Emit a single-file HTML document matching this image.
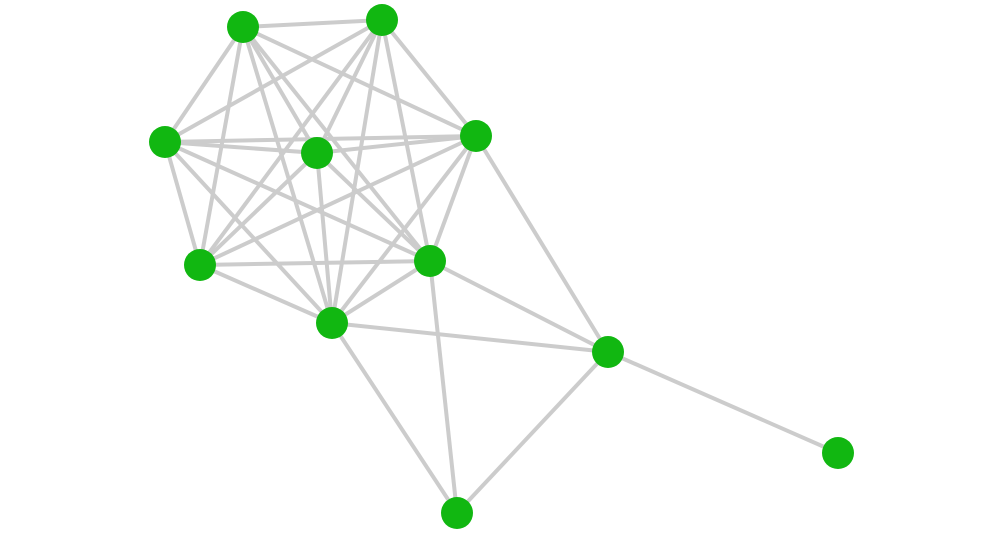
<!DOCTYPE html>
<html><head><meta charset="utf-8"><style>html,body{margin:0;padding:0;background:#fff}</style></head>
<body>
<svg width="1000" height="535" xmlns="http://www.w3.org/2000/svg">
<g stroke="#cccccc" stroke-width="4" fill="none">
<line x1="243" y1="27" x2="382" y2="20"/>
<line x1="243" y1="27" x2="165" y2="142"/>
<line x1="243" y1="27" x2="200" y2="265"/>
<line x1="243" y1="27" x2="332" y2="323"/>
<line x1="243" y1="27" x2="317" y2="153"/>
<line x1="243" y1="27" x2="430" y2="261"/>
<line x1="243" y1="27" x2="476" y2="136"/>
<line x1="382" y1="20" x2="165" y2="142"/>
<line x1="382" y1="20" x2="317" y2="153"/>
<line x1="382" y1="20" x2="200" y2="265"/>
<line x1="382" y1="20" x2="332" y2="323"/>
<line x1="382" y1="20" x2="430" y2="261"/>
<line x1="382" y1="20" x2="476" y2="136"/>
<line x1="165" y1="142" x2="317" y2="153"/>
<line x1="165" y1="142" x2="476" y2="136"/>
<line x1="165" y1="142" x2="200" y2="265"/>
<line x1="165" y1="142" x2="430" y2="261"/>
<line x1="165" y1="142" x2="332" y2="323"/>
<line x1="317" y1="153" x2="476" y2="136"/>
<line x1="317" y1="153" x2="200" y2="265"/>
<line x1="317" y1="153" x2="332" y2="323"/>
<line x1="317" y1="153" x2="430" y2="261"/>
<line x1="476" y1="136" x2="200" y2="265"/>
<line x1="476" y1="136" x2="332" y2="323"/>
<line x1="476" y1="136" x2="430" y2="261"/>
<line x1="476" y1="136" x2="608" y2="352"/>
<line x1="200" y1="265" x2="430" y2="261"/>
<line x1="200" y1="265" x2="332" y2="323"/>
<line x1="430" y1="261" x2="332" y2="323"/>
<line x1="430" y1="261" x2="608" y2="352"/>
<line x1="430" y1="261" x2="457" y2="513"/>
<line x1="332" y1="323" x2="608" y2="352"/>
<line x1="332" y1="323" x2="457" y2="513"/>
<line x1="608" y1="352" x2="838" y2="453"/>
<line x1="608" y1="352" x2="457" y2="513"/>
</g>
<g fill="#11b711">
<circle cx="243" cy="27" r="16"/>
<circle cx="382" cy="20" r="16"/>
<circle cx="165" cy="142" r="16"/>
<circle cx="317" cy="153" r="16"/>
<circle cx="476" cy="136" r="16"/>
<circle cx="200" cy="265" r="16"/>
<circle cx="430" cy="261" r="16"/>
<circle cx="332" cy="323" r="16"/>
<circle cx="608" cy="352" r="16"/>
<circle cx="838" cy="453" r="16"/>
<circle cx="457" cy="513" r="16"/>
</g>
</svg>
</body></html>
